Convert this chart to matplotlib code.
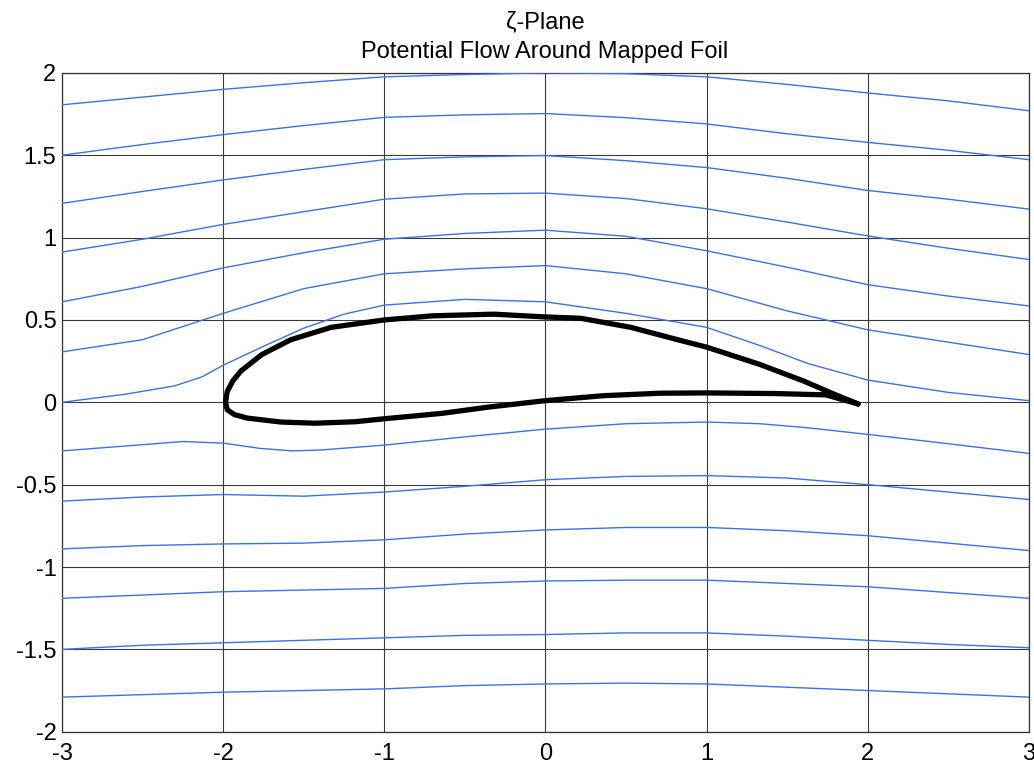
import matplotlib
matplotlib.use("Agg")
import matplotlib.pyplot as plt

plt.rcParams['font.family'] = ['Liberation Sans', 'DejaVu Sans']

# x stations of the streamlines (read every half unit)
stream_x = [-3.0, -2.5, -2.0, -1.5, -1.0, -0.5, 0.0, 0.5, 1.0, 1.5, 2.0, 2.5, 3.0]

# streamlines above the foil
line_a = [1.806, 1.853, 1.90, 1.94, 1.976, 1.99, 2.0, 1.995, 1.976, 1.93, 1.878, 1.83, 1.77]
line_b = [1.50, 1.565, 1.625, 1.68, 1.73, 1.745, 1.753, 1.728, 1.69, 1.63, 1.578, 1.53, 1.473]
line_c = [1.208, 1.28, 1.35, 1.414, 1.473, 1.49, 1.498, 1.467, 1.425, 1.36, 1.286, 1.233, 1.173]
line_d = [0.912, 0.99, 1.08, 1.157, 1.233, 1.265, 1.27, 1.237, 1.175, 1.094, 1.01, 0.935, 0.867]
line_e = [0.61, 0.704, 0.816, 0.908, 0.99, 1.025, 1.045, 1.008, 0.92, 0.82, 0.714, 0.645, 0.585]
line_f = [0.306, 0.38, 0.54, 0.69, 0.78, 0.81, 0.83, 0.78, 0.69, 0.555, 0.44, 0.365, 0.29]

# dividing streamline (wraps over the upper surface)
line_g_x = [-3.0, -2.6, -2.3, -2.13, -2.0, -1.75, -1.5, -1.25, -1.0, -0.5, 0.0, 0.5, 1.0, 1.33, 1.63, 2.0, 2.5, 3.0]
line_g_y = [0.0, 0.05, 0.10, 0.155, 0.225, 0.34, 0.45, 0.535, 0.59, 0.625, 0.61, 0.54, 0.455, 0.345, 0.235, 0.135, 0.06, 0.01]

# streamlines below the foil
line_h_x = [-3.0, -2.6, -2.25, -2.0, -1.77, -1.57, -1.4, -1.0, -0.5, 0.0, 0.5, 1.0, 1.33, 1.63, 2.0, 2.4, 3.0]
line_h_y = [-0.295, -0.265, -0.238, -0.248, -0.28, -0.295, -0.29, -0.26, -0.21, -0.163, -0.13, -0.12, -0.13, -0.155, -0.195, -0.24, -0.31]
line_i = [-0.60, -0.575, -0.56, -0.57, -0.545, -0.51, -0.47, -0.45, -0.445, -0.46, -0.50, -0.545, -0.59]
line_j = [-0.89, -0.87, -0.86, -0.855, -0.835, -0.80, -0.775, -0.76, -0.76, -0.78, -0.81, -0.855, -0.90]
line_k = [-1.19, -1.17, -1.15, -1.14, -1.13, -1.10, -1.085, -1.08, -1.08, -1.10, -1.12, -1.155, -1.19]
line_l = [-1.50, -1.475, -1.46, -1.445, -1.43, -1.415, -1.41, -1.40, -1.40, -1.42, -1.445, -1.47, -1.49]
line_m = [-1.79, -1.775, -1.76, -1.75, -1.74, -1.72, -1.71, -1.705, -1.71, -1.73, -1.75, -1.77, -1.79]

# mapped foil outline (TE -> upper surface -> LE -> lower surface -> TE)
foil_x = [1.94, 1.79, 1.6, 1.33, 1.0, 0.84, 0.53, 0.22, 0.0, -0.32, -0.7, -1.0, -1.33, -1.58, -1.76,
          -1.89, -1.94, -1.975, -1.985, -1.975, -1.93, -1.85, -1.64, -1.43, -1.18, -1.0,
          -0.64, -0.36, 0.0, 0.36, 0.71, 1.0, 1.43, 1.74, 1.94]
foil_y = [-0.01, 0.05, 0.13, 0.23, 0.335, 0.375, 0.455, 0.51, 0.518, 0.535, 0.525, 0.50, 0.455, 0.38, 0.29,
          0.19, 0.13, 0.065, 0.0, -0.045, -0.075, -0.096, -0.12, -0.127, -0.118, -0.10,
          -0.067, -0.03, 0.01, 0.04, 0.055, 0.057, 0.053, 0.045, -0.01]

x_ticks = [-3, -2, -1, 0, 1, 2, 3]
x_tick_labels = ['-3', '-2', '-1', '0', '1', '2', '3']
y_ticks = [-2, -1.5, -1, -0.5, 0, 0.5, 1, 1.5, 2]
y_tick_labels = ['-2', '-1.5', '-1', '-0.5', '0', '0.5', '1', '1.5', '2']

title_lines = ['\u03b6-Plane', 'Potential Flow Around Mapped Foil']

fig = plt.figure(figsize=(10.34, 7.67), dpi=100)
ax = fig.add_axes([0.060, 0.046, 0.935, 0.859])

blue = '#3a72e4'
for ys in [line_a, line_b, line_c, line_d, line_e, line_f, line_i, line_j, line_k, line_l, line_m]:
    ax.plot(stream_x, ys, color=blue, lw=1.0, zorder=3)
ax.plot(line_g_x, line_g_y, color=blue, lw=1.0, zorder=3)
ax.plot(line_h_x, line_h_y, color=blue, lw=1.0, zorder=3)

ax.plot(foil_x, foil_y, color='black', lw=3.8, solid_joinstyle='round',
        solid_capstyle='round', zorder=4)

ax.set_xlim(-3, 3)
ax.set_ylim(-2, 2)
ax.set_xticks(x_ticks)
ax.set_xticklabels(x_tick_labels)
ax.set_yticks(y_ticks)
ax.set_yticklabels(y_tick_labels)
ax.tick_params(direction='in', length=0, labelsize=17)
ax.tick_params(axis='x', pad=8)
ax.tick_params(axis='y', pad=4)
ax.grid(True, color='#3a3a3a', lw=0.8)
ax.set_axisbelow(True)
for s in ax.spines.values():
    s.set_color('#333333')
    s.set_linewidth(0.9)

fig.text(0.527, 1 - 28 / 767, title_lines[0], ha='center', va='baseline', fontsize=17)
fig.text(0.527, 1 - 58 / 767, title_lines[1], ha='center', va='baseline', fontsize=17)

fig.savefig('out.png', dpi=100)
